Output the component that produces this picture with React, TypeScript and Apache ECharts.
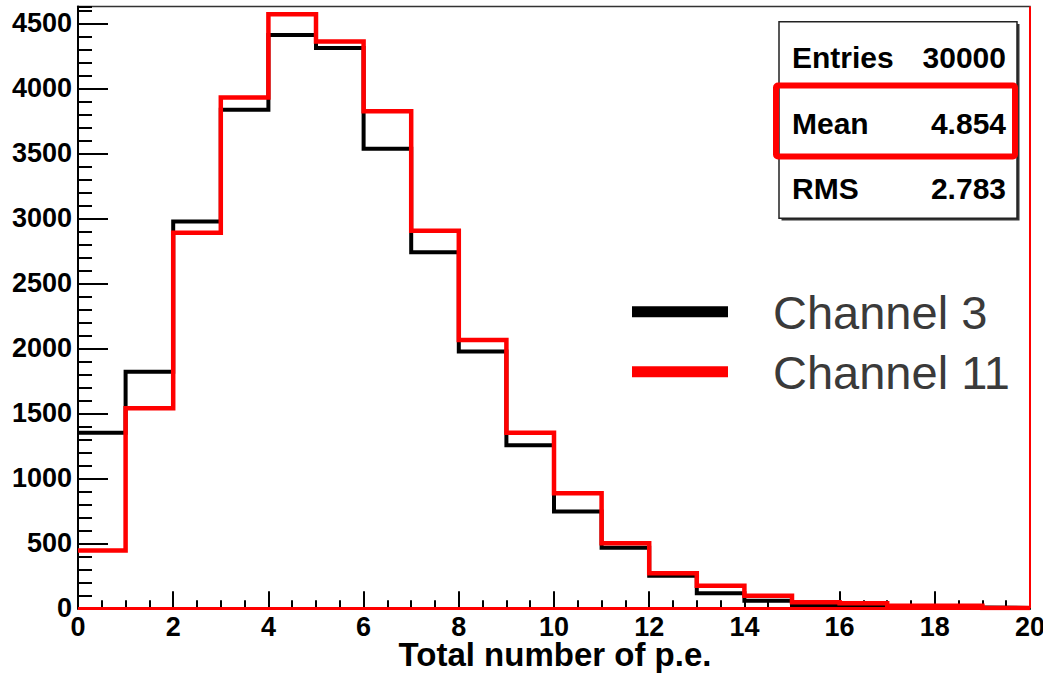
import { useEffect, useRef } from 'react';
import * as echarts from 'echarts';

// bin lower edges (p.e.), width 1
const binEdges = [0, 1, 2, 3, 4, 5, 6, 7, 8, 9, 10, 11, 12, 13, 14, 15, 16, 17, 18, 19, 20];
const channel3 = [1350, 1820, 2975, 3835, 4410, 4310, 3535, 2740, 1975, 1255, 745, 465, 250, 115, 58, 25, 12, 8, 6, 3];
const channel11 = [445, 1540, 2890, 3930, 4570, 4360, 3825, 2905, 2065, 1350, 885, 500, 270, 174, 97, 46, 38, 20, 20, 3];
const seriesNames = ['Channel 3', 'Channel 11'];
const seriesColors = ['#000000', '#ff0000'];
const statLabels = ['Entries', 'Mean', 'RMS'];
const statValues = ['30000', '4.854', '2.783'];
const xTitle = 'Total number of p.e.';

const FONT = '"Liberation Sans", Arial, Helvetica, sans-serif';

const toSteps = (values: number[]) => [
  ...values.map((v, i) => [binEdges[i], v]),
  [binEdges[values.length], values[values.length - 1]],
];

export default function App() {
  const chartRef = useRef<HTMLDivElement>(null);

  useEffect(() => {
    if (!chartRef.current) return;
    const chart = echarts.init(chartRef.current, undefined, { renderer: 'svg' });

    const rowY = [57, 123, 188];

    const option = {
      animation: false,
      backgroundColor: '#ffffff',
      grid: {
        left: 78,
        right: 13,
        top: 6.5,
        bottom: 65.7,
        containLabel: false,
        outerBoundsMode: 'none',
        show: true,
        borderColor: '#333333',
        borderWidth: 1.5,
      },
      xAxis: {
        type: 'value',
        min: 0,
        max: 20,
        interval: 2,
        axisLine: { show: true, lineStyle: { color: '#000', width: 2 } },
        axisTick: { show: true, inside: true, length: 17, lineStyle: { color: '#000', width: 2 } },
        minorTick: { show: true, splitNumber: 4, length: 8, lineStyle: { color: '#000', width: 2 } },
        axisLabel: {
          fontFamily: FONT,
          fontWeight: 'bold',
          fontSize: 27,
          lineHeight: 20,
          color: '#000',
          margin: 9,
          formatter: (v: number) => String(v),
        },
        splitLine: { show: false },
      },
      yAxis: [
        {
          type: 'value',
          min: 0,
          max: 4630,
          interval: 500,
          axisLine: { show: true, lineStyle: { color: '#000', width: 2 } },
          axisTick: { show: true, inside: true, length: 30, lineStyle: { color: '#000', width: 2 } },
          axisLabel: {
            fontFamily: FONT,
            fontWeight: 'bold',
            fontSize: 27,
            color: '#000',
            margin: 6,
            showMaxLabel: false,
            formatter: (v: number) => String(v),
          },
          splitLine: { show: false },
        },
        {
          // minor ticks every 100
          type: 'value',
          position: 'left',
          min: 0,
          max: 4630,
          interval: 100,
          axisLine: { show: false },
          axisTick: { show: true, inside: true, length: 14, lineStyle: { color: '#000', width: 2 } },
          axisLabel: { show: false },
          splitLine: { show: false },
        },
      ],
      series: [
        {
          type: 'line',
          name: seriesNames[0],
          step: 'end',
          data: toSteps(channel3),
          symbol: 'none',
          z: 3,
          lineStyle: { color: seriesColors[0], width: 4, join: 'miter', cap: 'butt' },
        },
        {
          type: 'line',
          name: seriesNames[1],
          step: 'end',
          data: toSteps(channel11),
          symbol: 'none',
          z: 4,
          lineStyle: { color: seriesColors[1], width: 4.5, join: 'miter', cap: 'butt' },
          markLine: {
            silent: true,
            symbol: 'none',
            label: { show: false },
            data: [
              { yAxis: 0, lineStyle: { color: seriesColors[1], width: 3, type: 'solid' } },
              { xAxis: 20, lineStyle: { color: seriesColors[1], width: 2, type: 'solid' } },
            ],
          },
        },
      ],
      graphic: [
        // x axis title
        {
          type: 'text',
          z: 12,
          x: 555,
          y: 654,
          style: {
            text: xTitle,
            fontFamily: FONT,
            fontWeight: 'bold',
            fontSize: 33,
            lineHeight: 26,
            fill: '#000',
            align: 'center',
            verticalAlign: 'middle',
          },
        },
        // stats box with shadow
        {
          type: 'rect',
          z: 10,
          shape: { x: 781.5, y: 24, width: 238, height: 196.5 },
          style: { fill: '#333333' },
        },
        {
          type: 'rect',
          z: 11,
          shape: { x: 779, y: 21.7, width: 238, height: 196.5 },
          style: { fill: '#ffffff', stroke: '#222222', lineWidth: 1.5 },
        },
        ...statLabels.map((t, i) => ({
          type: 'text',
          z: 12,
          x: 792,
          y: rowY[i],
          style: {
            text: t,
            fontFamily: FONT,
            fontWeight: 'bold',
            fontSize: 30,
            fill: '#000',
            align: 'left',
            verticalAlign: 'middle',
          },
        })),
        ...statValues.map((t, i) => ({
          type: 'text',
          z: 12,
          x: 1006,
          y: rowY[i],
          style: {
            text: t,
            fontFamily: FONT,
            fontWeight: 'bold',
            fontSize: 30,
            fill: '#000',
            align: 'right',
            verticalAlign: 'middle',
          },
        })),
        {
          type: 'rect',
          z: 13,
          shape: { x: 776, y: 85.5, width: 239, height: 71, r: 2 },
          style: { fill: 'none', stroke: '#ff0000', lineWidth: 6 },
        },
        // legend
        ...seriesNames.map((n, i) => ({
          type: 'group',
          z: 12,
          children: [
            {
              type: 'line',
              shape: { x1: 632, y1: 311.7 + i * 60, x2: 728, y2: 311.7 + i * 60 },
              style: { stroke: seriesColors[i], lineWidth: 11 },
            },
            {
              type: 'text',
              x: 773,
              y: 312 + i * 60,
              style: {
                text: n,
                fontFamily: FONT,
                fontSize: 47,
                fill: '#3a3a3a',
                align: 'left',
                verticalAlign: 'middle',
              },
            },
          ],
        })),
      ],
    };

    chart.setOption(option);

    const handleResize = () => chart.resize();
    window.addEventListener('resize', handleResize);
    return () => {
      window.removeEventListener('resize', handleResize);
      chart.dispose();
    };
  }, []);

  return (
    <div
      ref={chartRef}
      style={{ position: 'absolute', left: 0, top: 0, width: 1043, height: 674 }}
    />
  );
}
